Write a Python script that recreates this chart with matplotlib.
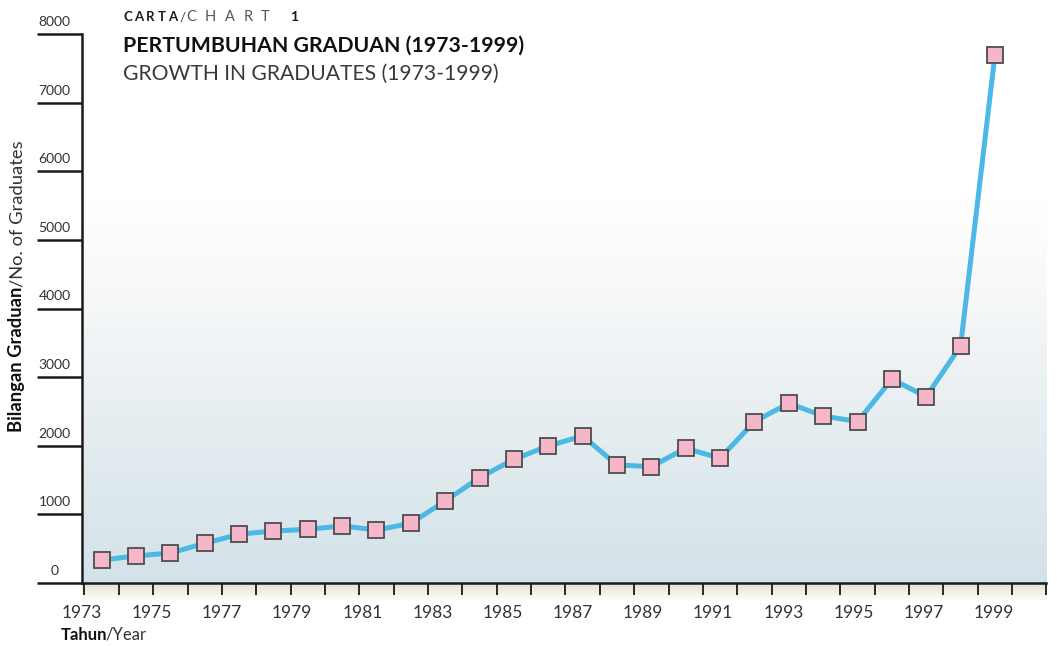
import numpy as np
import matplotlib
matplotlib.use("Agg")
import matplotlib.pyplot as plt
from matplotlib.colors import LinearSegmentedColormap
from matplotlib.transforms import ScaledTranslation

# ---- data ----
years = list(range(1973, 2000))
graduates = [335, 394, 437, 578, 710, 758, 782, 831, 773, 870, 1195,
             1535, 1803, 1997, 2143, 1720, 1696, 1963, 1818, 2352,
             2619, 2434, 2352, 2969, 2716, 3455, 7700]
yticks = [0, 1000, 2000, 3000, 4000, 5000, 6000, 7000, 8000]
xtick_labels = [str(y) for y in range(1973, 2000, 2)]

plt.rcParams['font.family'] = ['Lato', 'DejaVu Sans']

W, H = 1057, 646
fig = plt.figure(figsize=(W / 100, H / 100), dpi=100)
fig.patch.set_facecolor('white')

left, right, bottom, top = 81.7, 1046.5, 583, 34
ax = fig.add_axes([left / W, 1 - bottom / H, (right - left) / W, (bottom - top) / H])
ax.set_facecolor('none')

xmin, xmax = 1972.5, 2000.5

# background gradient inside plot
grad = np.repeat(np.linspace(0, 1, 256).reshape(-1, 1), 16, axis=1)
cmap = LinearSegmentedColormap.from_list(
    'bg', [(0, '#d3e2e9'), (0.2, '#e0eaee'), (0.4, '#eef2f4'), (0.55, '#f8f9fa'),
           (0.7, '#ffffff'), (1, '#ffffff')])
ax.imshow(grad, aspect='auto', cmap=cmap, origin='lower', interpolation='bilinear',
          extent=(xmin, xmax, 0, 8000), zorder=0)
ax.set_xlim(xmin, xmax)
ax.set_ylim(0, 8000)

# olive band under the axis
band = fig.add_axes([left / W, 1 - 601 / H, (right - left) / W, 18 / H], zorder=-1)
bcmap = LinearSegmentedColormap.from_list('band', [(0, '#ffffff'), (1, '#dfe0cc')])
band.imshow(grad, aspect='auto', cmap=bcmap, origin='lower', interpolation='bilinear',
            extent=(0, 1, 0, 1))
band.axis('off')

# data line
ax.plot(years, graduates, color='#4cb8e6', lw=3.6, solid_joinstyle='round',
        marker='s', ms=11, mfc='#f6b6ca', mec='#4d4d4d', mew=1.3, zorder=3)

# spines
for s in ['top', 'right']:
    ax.spines[s].set_visible(False)
for s in ['left', 'bottom']:
    ax.spines[s].set_linewidth(1.8)
    ax.spines[s].set_color('#1a1a1a')

# y ticks: long tick lines to the left, labels above them
ax.set_yticks(yticks)
ax.set_yticklabels([str(v) for v in yticks], ha='center', fontsize=10, color='#333333')
ax.tick_params(axis='y', direction='out', length=32.4, width=1.8, color='#1a1a1a', pad=0)
off = ScaledTranslation(18 / 100, 13 / 100, fig.dpi_scale_trans)
for lab in ax.get_yticklabels():
    lab.set_transform(lab.get_transform() + off)

# x ticks: minor ticks at year boundaries, labels on major
ax.set_xticks(np.arange(1972.5, 2000.6, 1.0), minor=True)
ax.set_xticks(np.linspace(1972.42, 1998.97, len(xtick_labels)))
ax.set_xticklabels(xtick_labels, fontsize=12.5, color='#333333')
ax.tick_params(axis='x', which='major', length=0, pad=16)
ax.tick_params(axis='x', which='minor', direction='out', length=8.5, width=1.4, color='#2a2a1a')


def seq_text(x, y, parts):
    """Horizontal text made of parts: (text, size, weight, color, tracking_px, gap_px)."""
    cur = x
    for text, size, weight, color, track, gap in parts:
        cur += gap
        chunks = list(text) if track else [text]
        for ch in chunks:
            t = fig.text(cur / W, 1 - y / H, ch, fontsize=size, fontweight=weight,
                         color=color, ha='left', va='baseline')
            fig.canvas.draw()
            bb = t.get_window_extent()
            cur = bb.x1 + (track or 0)
    return cur


def two_part_vertical(x, y, first, second, size):
    t1 = fig.text(x / W, 1 - y / H, first, fontsize=size, fontweight='bold', color='#111111',
                  rotation=90, rotation_mode='anchor', ha='left', va='baseline')
    fig.canvas.draw()
    bb = t1.get_window_extent()
    fig.text(x / W, bb.y1 / H, second, fontsize=size, fontweight='normal', color='#333333',
             rotation=90, rotation_mode='anchor', ha='left', va='baseline')


# y axis label
two_part_vertical(22, 432, 'Bilangan Graduan', '/No. of Graduates', 13.2)
# x axis label
seq_text(61, 640, [('Tahun', 12, 'bold', '#111111', 0, 0),
                   ('/Year', 12, 'normal', '#333333', 0, -2)])

# titles
seq_text(123, 21, [('CARTA', 9.5, 'bold', '#1a1a1a', 2.6, 0),
                   ('/', 9.5, 'normal', '#444444', 0, 0),
                   ('CHART', 10.5, 'normal', '#555555', 8.5, 1),
                   ('1', 10, 'bold', '#1a1a1a', 0, 12)])
fig.text(123 / W, 1 - 52 / H, 'PERTUMBUHAN GRADUAN (1973-1999)', fontsize=15.3,
         fontweight='bold', color='#111111', ha='left', va='baseline')
fig.text(123 / W, 1 - 80 / H, 'GROWTH IN GRADUATES (1973-1999)', fontsize=15.2,
         fontweight='normal', color='#3a3a3a', ha='left', va='baseline')

fig.savefig('out.png', dpi=100, facecolor='white')
